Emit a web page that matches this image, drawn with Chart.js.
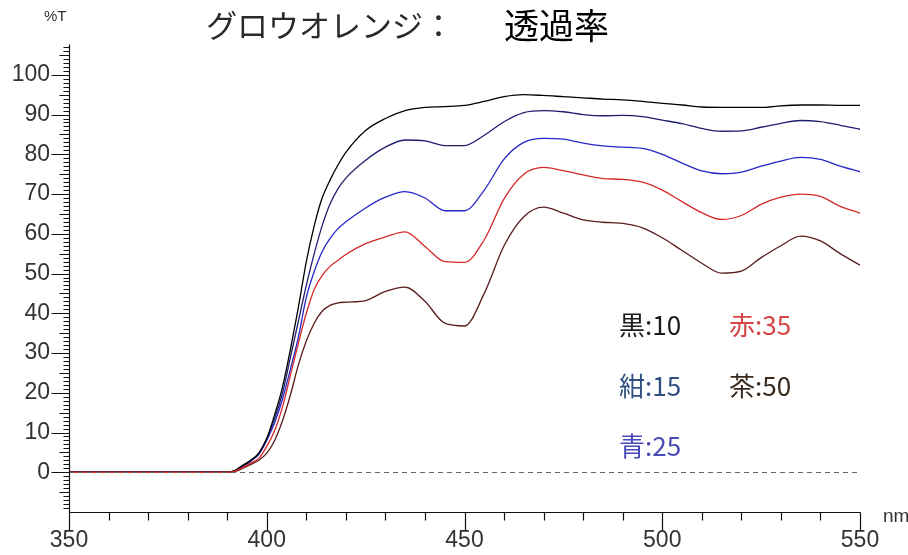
<!DOCTYPE html>
<html>
<head>
<meta charset="utf-8">
<script src="https://cdn.jsdelivr.net/npm/chart.js@4.4.1/dist/chart.umd.min.js"></script>
<style>
  body { margin: 0; background: #fff; }
  #wrap { position: relative; width: 908px; height: 555px; }
  .txt { position: absolute; white-space: nowrap; font-family: "Noto Sans CJK JP", "Noto Sans", sans-serif; }
  .ax { font-family: "Liberation Sans", sans-serif; color: #333; }
</style>
</head>
<body>
<div id="wrap">
  <canvas id="chart" width="908" height="555"></canvas>
  <div class="txt ax" style="left:44px; top:7px; font-size:15px;">%T</div>
  <div class="txt ax" style="left:883px; top:505px; font-size:19px;">nm</div>
  <div class="txt" style="left:206px; top:1px; font-size:31px; color:#2a2a2a;">グロウオレンジ：</div>
  <div class="txt" style="left:504px; top:-2px; font-size:35px; color:#000;">透過率</div>
  <div class="txt" style="left:619px; top:305px; font-size:26px; color:#1c1c1c;">黒:10</div>
  <div class="txt" style="left:729px; top:305px; font-size:26px; color:#d64545;">赤:35</div>
  <div class="txt" style="left:619px; top:366px; font-size:26px; color:#2f5080;">紺:15</div>
  <div class="txt" style="left:729px; top:366px; font-size:26px; color:#3a2a1e;">茶:50</div>
  <div class="txt" style="left:619px; top:426px; font-size:26px; color:#4a4ab8;">青:25</div>
</div>
<script>
// wavelength (nm)
const wavelengths = [350, 355, 360, 365, 370, 375, 380, 385, 390, 392, 394, 396, 398, 400,
  402, 404, 406, 408, 410, 412, 414, 416, 418, 420, 425, 430, 435, 440, 445, 450, 455, 460,
  465, 470, 475, 480, 485, 490, 495, 500, 505, 510, 515, 520, 525, 530, 535, 540, 545, 550];

// %T per sample
const kuro = [0, 0, 0, 0, 0, 0, 0, 0, 0, 0.5, 1.8, 3, 4.8, 8.5,
  14.5, 21.5, 31, 41.5, 53, 62, 69, 73.5, 77.3, 80.5, 86, 89, 91, 91.8, 92, 92.3, 93.3, 94.5,
  95, 94.8, 94.5, 94.2, 93.9, 93.7, 93.3, 92.8, 92.4, 91.9, 91.8, 91.8, 91.8, 92.2, 92.4, 92.4, 92.3, 92.3];
const kon = [0, 0, 0, 0, 0, 0, 0, 0, 0, 0.4, 1.6, 3, 4.8, 8.5,
  13.5, 20, 29, 38, 47, 55, 62, 67.5, 71.3, 74, 78.5, 81.8, 83.6, 83.4, 82.2, 82.2, 84.8, 88.2,
  90.5, 91, 90.7, 90, 89.7, 89.8, 89.5, 88.6, 87.7, 86.5, 85.8, 85.9, 86.8, 87.8, 88.5, 88.2, 87.3, 86.3];
const ao = [0, 0, 0, 0, 0, 0, 0, 0, 0, 0.4, 1.5, 2.8, 4.5, 8,
  12.5, 18.5, 26, 34, 44, 50.5, 55.5, 58.8, 61.3, 63, 66.5, 69.2, 70.6, 69, 65.8, 65.8, 71, 78.8,
  83, 84, 83.8, 82.8, 82.1, 81.8, 81.5, 80, 77.8, 75.8, 75.1, 75.5, 77, 78.3, 79.2, 78.7, 77, 75.6];
const aka = [0, 0, 0, 0, 0, 0, 0, 0, 0, 0.3, 1.2, 2.3, 3.5, 6.5,
  10.5, 16.5, 24.5, 32.5, 40, 46, 49.5, 51.8, 53.3, 54.8, 57.5, 59.2, 60.5, 56.8, 53, 52.8, 58.5, 68.8,
  75, 76.7, 75.9, 74.8, 73.9, 73.7, 73, 71, 68.1, 65.3, 63.6, 64.6, 67.4, 69.2, 70, 69.4, 66.9, 65.2];
const cha = [0, 0, 0, 0, 0, 0, 0, 0, 0, 0.2, 1, 2, 3, 4.8,
  8, 13, 19.5, 27, 33, 37.5, 40.5, 42, 42.6, 42.8, 43.2, 45.5, 46.6, 43, 37.5, 36.8, 45, 57,
  64.3, 66.7, 65.2, 63.5, 62.9, 62.6, 61.5, 59, 55.8, 52.6, 50.1, 50.6, 54, 57, 59.4, 58.2, 55, 52.1];

const seriesNames = ['赤:35', '黒:10', '紺:15', '青:25', '茶:50'];
const xTickValues = [350, 400, 450, 500, 550];
const yTickValues = [0, 10, 20, 30, 40, 50, 60, 70, 80, 90, 100];

function toPoints(values) {
    return wavelengths.map((w, i) => ({ x: w, y: values[i] }));
}

function makeSet(label, values, color) {
    return {
        label: label,
        data: toPoints(values),
        borderColor: color,
        borderWidth: 1.3,
        pointRadius: 0,
        cubicInterpolationMode: 'monotone',
        fill: false
    };
}

// axis lines, ruler ticks and the dashed zero line
const axisMarks = {
    id: 'axisMarks',
    afterDatasetsDraw(chart) {
        const { ctx, chartArea, scales } = chart;
        const y0 = Math.round(scales.y.getPixelForValue(0)) + 0.5;
        ctx.save();
        ctx.strokeStyle = '#666';
        ctx.lineWidth = 1;
        ctx.setLineDash([5, 4]);
        ctx.beginPath();
        ctx.moveTo(chartArea.left, y0);
        ctx.lineTo(chartArea.right, y0);
        ctx.stroke();
        ctx.restore();
    },
    afterDraw(chart) {
        const { ctx, chartArea, scales } = chart;
        const left = Math.round(chartArea.left) + 0.5;
        const bottom = Math.round(chartArea.bottom) + 0.5;
        ctx.save();
        ctx.strokeStyle = '#111';
        ctx.lineWidth = 1.2;
        ctx.beginPath();
        ctx.moveTo(left, scales.y.getPixelForValue(107.6));
        ctx.lineTo(left, bottom);
        ctx.lineTo(Math.round(chartArea.right) + 0.5, bottom);
        for (let v = -9; v <= 107; v++) {
            const py = Math.round(scales.y.getPixelForValue(v)) + 0.5;
            let len = 6;
            if (v % 10 === 0) len = v >= 0 && v <= 100 ? 18 : 10;
            else if (v % 5 === 0) len = 10;
            ctx.moveTo(left - len, py);
            ctx.lineTo(left, py);
        }
        for (let w = 350; w <= 550; w += 10) {
            const px = Math.round(scales.x.getPixelForValue(w)) + 0.5;
            const len = w % 50 === 0 ? 18 : 8;
            ctx.moveTo(px, bottom);
            ctx.lineTo(px, bottom + len);
        }
        ctx.stroke();
        ctx.restore();
    }
};

const tickFont = { family: '"Liberation Sans", sans-serif', size: 23 };

new Chart(document.getElementById('chart'), {
    type: 'line',
    data: {
        datasets: [
            makeSet(seriesNames[0], aka, '#d42a2a'),
            makeSet(seriesNames[1], kuro, '#000000'),
            makeSet(seriesNames[2], kon, '#1e1e70'),
            makeSet(seriesNames[3], ao, '#2626c8'),
            makeSet(seriesNames[4], cha, '#5a1c1c')
        ]
    },
    options: {
        responsive: false,
        animation: false,
        layout: { padding: { left: 0, right: 48, top: 43, bottom: 0 } },
        plugins: {
            legend: { display: false },
            title: { display: false },
            tooltip: { enabled: false }
        },
        scales: {
            x: {
                type: 'linear',
                min: 350,
                max: 550,
                afterBuildTicks: s => { s.ticks = xTickValues.map(v => ({ value: v })); },
                afterFit: s => { s.height = 43; },
                grid: { display: false, drawTicks: true, tickLength: 13 },
                border: { display: false },
                ticks: { autoSkip: false, maxRotation: 0, padding: 2, color: '#333', font: tickFont }
            },
            y: {
                type: 'linear',
                min: -10,
                max: 108,
                afterBuildTicks: s => { s.ticks = yTickValues.map(v => ({ value: v })); },
                afterFit: s => { s.width = 69; },
                grid: { display: false, drawTicks: true, tickLength: 17 },
                border: { display: false },
                ticks: { autoSkip: false, padding: 2, color: '#333', font: tickFont }
            }
        }
    },
    plugins: [axisMarks]
});
</script>
</body>
</html>
